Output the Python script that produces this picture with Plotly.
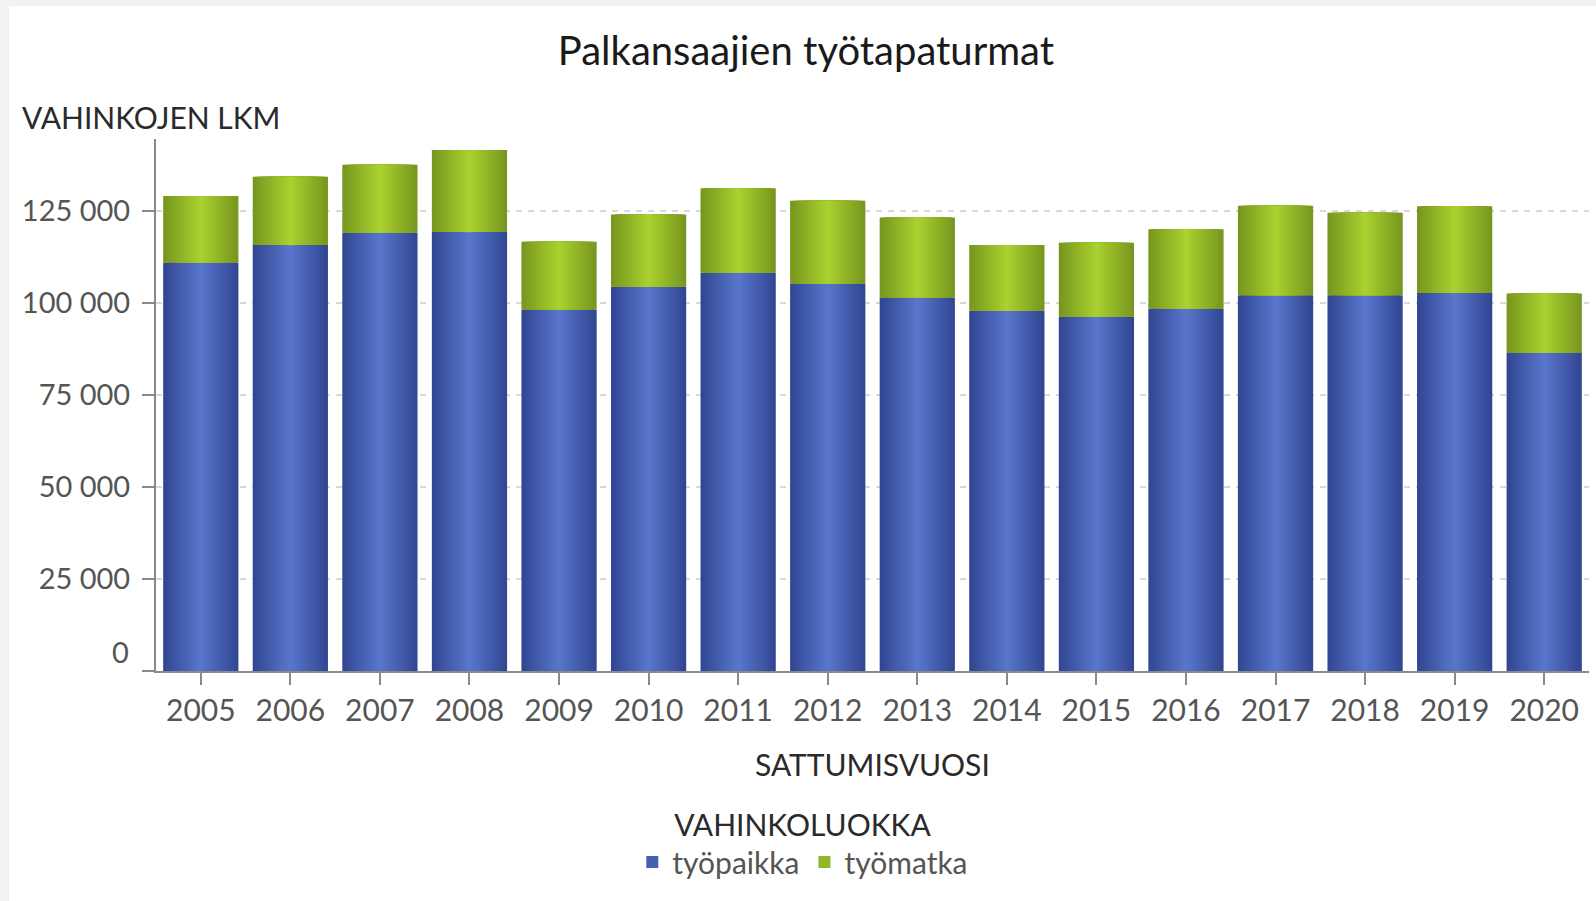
import plotly.graph_objects as go

years = [str(y) for y in range(2005, 2021)]
tyopaikka = [110980, 115680, 119020, 119210, 98210, 104350, 108150, 105270,
             101470, 97830, 96200, 98460, 102080, 102080, 102700, 86400]
tyomatka = [18020, 18560, 18480, 22290, 18370, 19670, 22940, 22450,
            21740, 17850, 20150, 21550, 24260, 22360, 23560, 16140]
y_ticks = [0, 25000, 50000, 75000, 100000, 125000]

FONT = "Lato"


def mix(c1, c2, t):
    return "#%02x%02x%02x" % tuple(round(a + (b - a) * t) for a, b in zip(c1, c2))


# bars get a horizontal gradient by stacking narrower, lighter layers on top
series = [
    ("työpaikka", tyopaikka, None, (0x32, 0x47, 0x94), (0x58, 0x75, 0xca)),
    ("työmatka", tyomatka, tyopaikka, (0x78, 0x97, 0x1e), (0xa8, 0xd0, 0x2e)),
]
N = 14
fig = go.Figure()
for name, vals, base, edge, center in series:
    for k in range(N):
        fig.add_bar(
            x=years, y=vals, base=base,
            width=0.84 * (1 - k / N),
            marker=dict(color=mix(edge, center, k / (N - 1)), line=dict(width=0)),
            name=name, legendgroup=name,
            showlegend=(k == N // 2),
            hoverinfo="skip",
        )

fig.update_layout(
    width=1596, height=901, autosize=False,
    margin=dict(l=156, r=7, t=139, b=230),
    barmode="overlay",
    separators=", ",
    paper_bgcolor="white", plot_bgcolor="white",
    font=dict(family=FONT, size=29, color="#555555"),
    title=dict(text="Palkansaajien työtapaturmat", x=0.505, xanchor="center",
               y=1 - 51 / 901, yanchor="middle",
               font=dict(family=FONT, size=40, color="#1a1a1a")),
    xaxis=dict(type="category", range=[-0.5, 15.5], showline=True,
               linecolor="#8a8a8a", linewidth=2, ticks="outside", ticklen=12,
               tickcolor="#8a8a8a", tickwidth=2, showgrid=False,
               tickfont=dict(size=30, color="#555555")),
    yaxis=dict(range=[0, 144500], showline=True, linecolor="#8a8a8a", linewidth=2,
               ticks="outside", ticklen=12, tickcolor="#8a8a8a", tickwidth=2,
               tickvals=y_ticks, ticklabelstandoff=6,
               ticktext=["" if v == 0 else f"{v:,}".replace(",", " ") for v in y_ticks],
               showgrid=True, gridcolor="#d9d9d9", gridwidth=2, griddash="6px,6px",
               zeroline=False, tickfont=dict(size=29, color="#555555")),
    legend=dict(orientation="h", xref="container", yref="container",
                x=0.503, xanchor="center", y=1 - 797 / 901, yanchor="top",
                title=dict(text="VAHINKOLUOKKA", side="top center",
                           font=dict(size=30, color="#2a2a2a")),
                font=dict(size=30, color="#555555")),
    annotations=[
        dict(text="VAHINKOJEN LKM", xref="paper", yref="paper",
             x=(20 - 156) / 1433, xanchor="left", y=(671 - 117) / 532,
             yanchor="middle", showarrow=False,
             font=dict(size=30, color="#2a2a2a")),
        dict(text="SATTUMISVUOSI", xref="paper", yref="paper",
             x=0.5, xanchor="center", y=(671 - 764) / 532, yanchor="middle",
             showarrow=False, font=dict(size=30, color="#2a2a2a")),
        dict(text="0", xref="paper", yref="y", x=(131 - 156) / 1433,
             xanchor="right", y=0, yanchor="middle", yshift=20,
             showarrow=False, font=dict(size=29, color="#555555")),
    ],
)

# light grey frame at top and left edge of the page
fig.add_shape(type="rect", xref="paper", yref="paper", layer="below",
              x0=(0 - 156) / 1433, x1=(1596 - 156) / 1433,
              y0=(671 - 6) / 532, y1=(671 - 0) / 532,
              fillcolor="#f2f2f2", line=dict(width=0))
fig.add_shape(type="rect", xref="paper", yref="paper", layer="below",
              x0=(0 - 156) / 1433, x1=(9 - 156) / 1433,
              y0=(671 - 901) / 532, y1=(671 - 0) / 532,
              fillcolor="#f2f2f2", line=dict(width=0))

fig.write_html("out.html", config={"displayModeBar": False},
               post_script="document.body.style.margin='0';")
